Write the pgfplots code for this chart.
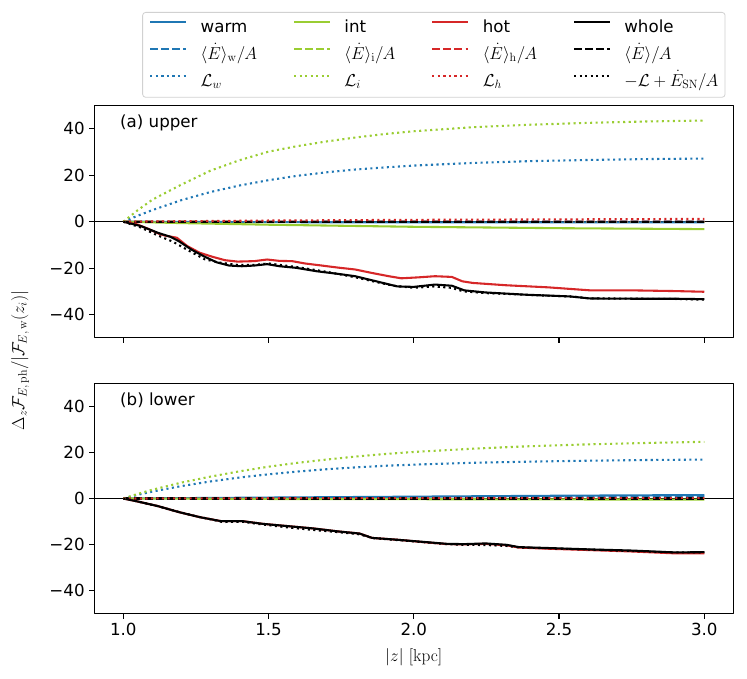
\documentclass[border=0pt]{standalone}
\usepackage[no-math]{fontspec}
\setmainfont{DejaVu Sans}
\usepackage{pgfplots}
\pgfplotsset{compat=1.18}
\definecolor{cw}{HTML}{1F77B4}
\definecolor{ci}{HTML}{9ACD32}
\definecolor{ch}{HTML}{D62728}
\newcommand{\fs}{\fontsize{16.67pt}{20pt}\selectfont}
\pgfplotsset{
  panel/.style={
    scale only axis, width=639pt,
    xmin=0.9, xmax=3.1, ymin=-50, ymax=50,
    xtick={1,1.5,2,2.5,3}, ytick={-40,-20,0,20,40},
    yticklabels={−40,−20,0,20,40},
    tick label style={font=\fs, inner sep=4.6pt},
    tick align=outside, xtick pos=left, ytick pos=left,
    major tick length=4.86pt,
    tick style={black, line width=1.1pt},
    axis line style={line width=1.1pt},
    /pgf/number format/assume math mode=true,
    line join=round,
  },
  sw/.style={line width=2.08pt},
  sdash/.style={line width=2.08pt, dash pattern=on 7.7pt off 3.33pt},
  sdot/.style={line width=2.08pt, dash pattern=on 2.08pt off 3.44pt},
}
\begin{document}
\begin{tikzpicture}
\useasboundingbox (0,0) rectangle (747pt,679pt);
% ---------------- upper panel ----------------
\begin{axis}[panel, at={(94.3pt,341.3pt)}, anchor=south west, height=232pt,
  xticklabels={},
  legend columns=4, legend cell align=left,
  legend image code/.code={\draw[#1] (0pt,5.6pt) -- (36pt,5.6pt);},
  legend style={at={(0.5314,1.0345)}, anchor=south, draw=black!18, line width=0.8pt,
    rounded corners=3pt, fill=white, font=\fs, inner sep=6.7pt,
    nodes={inner sep=0pt, text height=13pt, text depth=4.5pt},
    row sep=9.5pt,
    /tikz/every odd column/.append style={column sep=13.3pt},
    /tikz/every even column/.append style={column sep=36pt}},
]
\addplot[black, line width=1pt, forget plot] coordinates {(0.9,0) (3.1,0)};
% solid
\addplot[cw, sw] coordinates {(1.0,0) (1.5,-0.2) (2.0,-0.3) (2.5,-0.3) (3.0,-0.3)};
\addlegendentry{warm}
\addplot[ci, sw] coordinates {(1.0,0) (1.2,-0.6) (1.5,-1.3) (2.0,-2.2) (2.5,-2.8) (3.0,-3.2)};
\addlegendentry{int}
\addplot[ch, sw] coordinates {(1.0,0) (1.046,-1.1) (1.09,-3.3) (1.126,-5.4) (1.147,-6.1) (1.184,-6.9) (1.22,-10.5) (1.263,-13.4) (1.306,-15.1) (1.35,-16.6) (1.393,-17.2) (1.451,-17.0) (1.495,-16.3) (1.538,-16.9) (1.581,-17.0) (1.625,-18.0) (1.683,-18.9) (1.74,-19.8) (1.798,-20.6) (1.856,-22.1) (1.914,-23.5) (1.957,-24.4) (2.015,-24.0) (2.073,-23.5) (2.131,-23.8) (2.167,-25.7) (2.203,-26.4) (2.318,-27.4) (2.463,-28.3) (2.608,-29.6) (2.752,-29.6) (2.897,-29.9) (3.0,-30.2)};
\addlegendentry{hot}
\addplot[black, sw] coordinates {(1.0,0) (1.061,-1.9) (1.119,-4.8) (1.162,-6.5) (1.191,-8.4) (1.234,-12.0) (1.277,-14.9) (1.321,-17.5) (1.364,-18.9) (1.408,-19.2) (1.451,-18.9) (1.495,-18.3) (1.538,-19.2) (1.596,-19.9) (1.668,-21.4) (1.74,-22.5) (1.798,-23.5) (1.871,-25.7) (1.943,-27.9) (2.0,-28.1) (2.073,-27.1) (2.131,-27.6) (2.174,-29.6) (2.247,-30.5) (2.391,-31.5) (2.536,-32.2) (2.608,-33.1) (2.752,-33.2) (2.897,-33.2) (3.0,-33.4)};
\addlegendentry{whole}
% dashed
\addplot[cw, sdash] coordinates {(1.0,0) (1.5,0.05) (2.0,0.1) (2.5,0.1) (3.0,0.1)};
\addlegendentry{$\langle\dot{E}\rangle_{\mathrm{w}}/A$}
\addplot[ci, sdash] coordinates {(1.0,0) (1.5,-0.05) (2.0,-0.1) (2.5,-0.1) (3.0,-0.1)};
\addlegendentry{$\langle\dot{E}\rangle_{\mathrm{i}}/A$}
\addplot[ch, sdash] coordinates {(1.0,0) (1.5,0.0) (2.0,0.05) (2.5,0.05) (3.0,0.05)};
\addlegendentry{$\langle\dot{E}\rangle_{\mathrm{h}}/A$}
\addplot[black, sdash] coordinates {(1.0,0) (1.5,0.0) (2.0,0.0) (2.5,0.0) (3.0,0.0)};
\addlegendentry{$\langle\dot{E}\rangle/A$}
% dotted
\addplot[cw, sdot] coordinates {(1.0,0) (1.05,2.6) (1.1,5.0) (1.2,9.3) (1.3,12.8) (1.4,15.6) (1.5,17.9) (1.6,19.8) (1.7,21.3) (1.8,22.5) (1.9,23.4) (2.0,24.2) (2.2,25.3) (2.4,26.1) (2.6,26.6) (2.8,27.0) (3.0,27.2)};
\addlegendentry{$\mathcal{L}_w$}
\addplot[ci, sdot] coordinates {(1.0,0) (1.05,5.0) (1.1,9.5) (1.2,16.0) (1.3,22.0) (1.4,26.5) (1.5,30.2) (1.6,32.6) (1.7,34.6) (1.8,36.3) (1.9,37.8) (2.0,39.0) (2.2,40.7) (2.4,41.8) (2.6,42.6) (2.8,43.2) (3.0,43.6)};
\addlegendentry{$\mathcal{L}_i$}
\addplot[ch, sdot] coordinates {(1.0,0) (1.5,0.5) (2.0,0.8) (2.5,1.0) (3.0,1.2)};
\addlegendentry{$\mathcal{L}_h$}
\addplot[black, sdot] coordinates {(1.0,0) (1.06,-2.5) (1.12,-6.0) (1.17,-8.6) (1.23,-12.8) (1.28,-16.2) (1.33,-17.6) (1.39,-18.6) (1.45,-18.6) (1.5,-18.0) (1.55,-18.8) (1.6,-19.6) (1.7,-21.6) (1.8,-24.0) (1.87,-26.0) (1.93,-27.6) (2.0,-28.5) (2.07,-27.9) (2.13,-28.5) (2.17,-30.0) (2.25,-30.8) (2.4,-31.6) (2.55,-32.3) (2.6,-33.0) (2.75,-33.2) (2.9,-33.3) (3.0,-33.6)};
\addlegendentry{$-\mathcal{L}+\dot{E}_{\mathrm{SN}}/A$}
\node[anchor=west, inner sep=0pt, font=\fs] at (rel axis cs:0.0402,0.9254) {(a) upper};
\end{axis}
% ---------------- lower panel ----------------
\begin{axis}[panel, at={(94.3pt,65.3pt)}, anchor=south west, height=230.4pt,
  xticklabels={1.0,1.5,2.0,2.5,3.0},
  xlabel={$|z|\ [\mathrm{kpc}]$},
  xlabel style={font=\fs, at={(axis description cs:0.5,-0.188)}, anchor=center},
]
\addplot[black, line width=1pt] coordinates {(0.9,0) (3.1,0)};
\addplot[cw, sw] coordinates {(1.0,0) (1.5,0.4) (2.0,0.8) (2.5,1.2) (3.0,1.5)};
\addplot[ci, sw] coordinates {(1.0,0) (1.5,-0.2) (2.0,-0.3) (2.5,-0.4) (3.0,-0.5)};
\addplot[ch, sw] coordinates {(1.0,0) (1.046,-1.2) (1.119,-3.3) (1.191,-5.9) (1.263,-8.1) (1.335,-9.8) (1.408,-9.8) (1.48,-11.0) (1.567,-12.0) (1.654,-13.0) (1.74,-14.3) (1.813,-15.2) (1.856,-17.1) (1.943,-17.9) (2.03,-18.9) (2.116,-19.8) (2.174,-19.9) (2.247,-19.7) (2.319,-20.3) (2.362,-21.3) (2.463,-21.8) (2.608,-22.4) (2.752,-23.0) (2.897,-23.8) (3.0,-23.8)};
\addplot[black, sw] coordinates {(1.0,0) (1.046,-1.2) (1.119,-3.3) (1.191,-5.9) (1.263,-8.1) (1.335,-9.8) (1.408,-9.8) (1.48,-11.0) (1.567,-12.0) (1.654,-13.0) (1.74,-14.3) (1.813,-15.2) (1.856,-17.1) (1.943,-17.9) (2.03,-18.8) (2.116,-19.7) (2.174,-19.8) (2.247,-19.5) (2.319,-20.1) (2.362,-21.1) (2.463,-21.5) (2.608,-22.1) (2.752,-22.6) (2.897,-23.4) (3.0,-23.3)};
\addplot[cw, sdash] coordinates {(1.0,0) (1.5,0.2) (2.0,0.4) (2.5,0.6) (3.0,0.8)};
\addplot[ci, sdash] coordinates {(1.0,0) (1.5,-0.1) (2.0,-0.1) (2.5,-0.2) (3.0,-0.2)};
\addplot[ch, sdash] coordinates {(1.0,0) (1.5,0.0) (2.0,0.0) (2.5,0.0) (3.0,0.0)};
\addplot[black, sdash] coordinates {(1.0,0) (1.5,0.0) (2.0,0.0) (2.5,0.0) (3.0,0.0)};
\addplot[cw, sdot] coordinates {(1.0,0) (1.05,1.6) (1.1,3.0) (1.2,5.4) (1.3,7.4) (1.4,9.1) (1.5,10.5) (1.6,11.7) (1.7,12.7) (1.8,13.5) (1.9,14.2) (2.0,14.7) (2.2,15.5) (2.4,16.0) (2.6,16.4) (2.8,16.7) (3.0,16.9)};
\addplot[ci, sdot] coordinates {(1.0,0) (1.05,2.0) (1.1,3.8) (1.2,6.9) (1.3,9.5) (1.4,11.8) (1.5,13.8) (1.6,15.5) (1.7,16.9) (1.8,18.2) (1.9,19.3) (2.0,20.2) (2.2,21.6) (2.4,22.7) (2.6,23.5) (2.8,24.1) (3.0,24.6)};
\addplot[ch, sdot] coordinates {(1.0,0) (1.5,0.1) (2.0,0.2) (2.5,0.25) (3.0,0.3)};
\addplot[black, sdot] coordinates {(1.0,0) (1.05,-1.3) (1.12,-3.4) (1.19,-5.8) (1.26,-8.0) (1.3,-9.0) (1.34,-10.2) (1.41,-10.1) (1.48,-11.3) (1.57,-12.6) (1.65,-13.6) (1.74,-14.6) (1.81,-15.5) (1.86,-17.2) (1.94,-18.0) (2.03,-18.9) (2.12,-19.9) (2.17,-20.1) (2.25,-20.2) (2.32,-20.6) (2.36,-21.2) (2.46,-21.6) (2.61,-22.2) (2.75,-22.8) (2.9,-23.4) (3.0,-23.4)};
\node[anchor=west, inner sep=0pt, font=\fs] at (rel axis cs:0.0402,0.9275) {(b) lower};
\end{axis}
\node[rotate=90, font=\fs] at (20pt,318.5pt) {$\Delta_z\mathcal{F}_{E,\,\mathrm{ph}}/|\mathcal{F}_{E,\,\mathrm{w}}(z_i)|$};
\end{tikzpicture}
\end{document}
